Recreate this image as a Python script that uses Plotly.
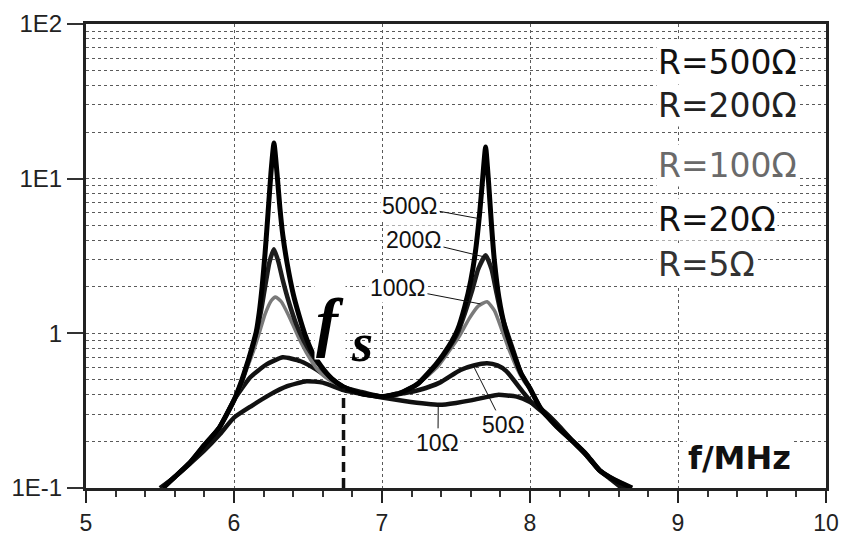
import plotly.graph_objects as go

# ---------------- data ----------------
x_500 = [5.52, 5.6, 5.7, 5.8, 5.9, 6.0, 6.05, 6.09, 6.12, 6.15, 6.17, 6.19, 6.21, 6.23, 6.25, 6.27,
         6.29, 6.31, 6.33, 6.36, 6.40, 6.44, 6.48, 6.53, 6.59, 6.66, 6.74, 6.85, 7.0, 7.12, 7.24,
         7.37, 7.45, 7.51, 7.56, 7.60, 7.63, 7.66, 7.68, 7.70, 7.72, 7.74, 7.76, 7.79, 7.83, 7.88,
         7.94, 8.0, 8.07, 8.18, 8.29, 8.38, 8.47, 8.57, 8.69]
y_500 = [0.1, 0.118, 0.145, 0.19, 0.245, 0.37, 0.49, 0.64, 0.8, 1.02, 1.35, 2.0, 3.3, 6.0, 11.0, 17,
         11.0, 6.5, 4.3, 2.8, 1.8, 1.3, 0.98, 0.75, 0.61, 0.51, 0.45, 0.41, 0.39, 0.41, 0.47,
         0.64, 0.82, 1.05, 1.5, 2.2, 3.3, 6.0, 10.0, 16, 9.5, 5.0, 2.9, 1.7, 1.1, 0.78,
         0.55, 0.44, 0.33, 0.25, 0.2, 0.165, 0.13, 0.113, 0.1]

x_200 = [5.52, 5.6, 5.7, 5.8, 5.9, 6.0, 6.05, 6.09, 6.12, 6.15, 6.18, 6.21, 6.24, 6.27, 6.30, 6.33,
         6.37, 6.42, 6.47, 6.53, 6.59, 6.66, 6.74, 6.85, 7.0, 7.12, 7.24, 7.37, 7.45, 7.51, 7.56,
         7.61, 7.65, 7.70, 7.74, 7.77, 7.80, 7.84, 7.89, 7.94, 8.0, 8.07, 8.18, 8.29, 8.38, 8.47,
         8.57, 8.68]
y_200 = [0.1, 0.118, 0.145, 0.19, 0.245, 0.37, 0.48, 0.63, 0.78, 1.0, 1.35, 2.0, 2.9, 3.5, 2.9, 2.2,
         1.6, 1.15, 0.9, 0.72, 0.6, 0.51, 0.45, 0.41, 0.39, 0.41, 0.47, 0.63, 0.8, 1.0, 1.35,
         1.9, 2.6, 3.2, 2.6, 1.9, 1.4, 1.05, 0.76, 0.55, 0.44, 0.33, 0.25, 0.2, 0.165, 0.13,
         0.113, 0.1]

x_100 = [5.52, 5.6, 5.7, 5.8, 5.9, 6.0, 6.05, 6.09, 6.13, 6.17, 6.21, 6.25, 6.28, 6.32, 6.37, 6.43,
         6.5, 6.56, 6.63, 6.74, 6.85, 7.0, 7.12, 7.24, 7.37, 7.45, 7.52, 7.59, 7.65, 7.71, 7.76,
         7.81, 7.86, 7.91, 7.96, 8.01, 8.07, 8.18, 8.29, 8.38, 8.47, 8.57, 8.68]
y_100 = [0.1, 0.118, 0.145, 0.19, 0.245, 0.37, 0.47, 0.6, 0.76, 1.0, 1.33, 1.62, 1.72, 1.6, 1.3, 0.97,
         0.72, 0.59, 0.51, 0.45, 0.41, 0.39, 0.41, 0.47, 0.6, 0.76, 0.95, 1.25, 1.5, 1.6, 1.4,
         1.05, 0.78, 0.6, 0.49, 0.42, 0.33, 0.25, 0.2, 0.165, 0.13, 0.113, 0.1]

x_50 = [5.51, 5.6, 5.7, 5.8, 5.9, 6.0, 6.11, 6.22, 6.33, 6.45, 6.56, 6.67, 6.74, 6.85, 7.0, 7.15, 7.25,
        7.39, 7.53, 7.62, 7.71, 7.78, 7.84, 7.95, 8.02, 8.1, 8.2, 8.29, 8.38, 8.47, 8.57, 8.65]
y_50 = [0.1, 0.118, 0.145, 0.185, 0.245, 0.37, 0.52, 0.63, 0.70, 0.66, 0.58, 0.49, 0.45, 0.42, 0.39, 0.41, 0.43,
        0.48, 0.58, 0.62, 0.64, 0.62, 0.57, 0.42, 0.35, 0.3, 0.245, 0.2, 0.163, 0.13, 0.112, 0.1]

x_10 = [5.5, 5.6, 5.7, 5.8, 5.9, 6.0, 6.12, 6.24, 6.36, 6.49, 6.6, 6.74, 6.87, 7.0, 7.15, 7.3, 7.39,
        7.5, 7.61, 7.78, 7.91, 8.0, 8.1, 8.2, 8.29, 8.38, 8.47, 8.55, 8.62]
y_10 = [0.1, 0.118, 0.143, 0.175, 0.22, 0.285, 0.34, 0.4, 0.455, 0.49, 0.48, 0.43, 0.405, 0.385, 0.365, 0.35, 0.345,
        0.355, 0.37, 0.40, 0.39, 0.36, 0.31, 0.25, 0.2, 0.163, 0.13, 0.113, 0.1]

fs_x = 6.74
fs_y = [0.1, 0.44]

y_tickvals = [0.1, 1, 10, 100]
y_ticktext = ["1E-1", "1", "1E1", "1E2"]
y_gridvals = [0.2, 0.3, 0.4, 0.5, 0.6, 0.7, 0.8, 0.9,
              2, 3, 4, 5, 6, 7, 8, 9,
              20, 30, 40, 50, 60, 70, 80, 90]
x_tickvals = [5, 6, 7, 8, 9, 10]

legend_texts = ["R=500Ω", "R=200Ω", "R=100Ω", "R=20Ω", "R=5Ω"]
legend_colors = ["#111111", "#222222", "#6a6a6a", "#111111", "#333333"]
legend_py = [0.918, 0.825, 0.696, 0.578, 0.481]

# ---------------- figure ----------------
fig = go.Figure()

series = [
    (x_10, y_10, "#111111", 4.5),
    (x_50, y_50, "#111111", 4.5),
    (x_100, y_100, "#7a7a7a", 3.5),
    (x_200, y_200, "#1c1c1c", 4.5),
    (x_500, y_500, "#000000", 5),
]
for xs, ys, col, w in series:
    fig.add_trace(go.Scatter(x=xs, y=ys, mode="lines",
                             line=dict(color=col, width=w, shape="spline", smoothing=0.5),
                             showlegend=False, hoverinfo="skip"))

fig.add_trace(go.Scatter(x=[fs_x, fs_x], y=fs_y, mode="lines",
                         line=dict(color="#111111", width=3.5, dash="10px,6px"),
                         showlegend=False, hoverinfo="skip"))

grid_style = dict(showgrid=True, gridcolor="#5a5a5a", griddash="dot", gridwidth=1)

fig.update_xaxes(range=[5, 10], tickvals=x_tickvals, ticks="outside", ticklen=12, tickwidth=2,
                 tickcolor="#222", showline=True, linewidth=3, linecolor="#222", mirror=True,
                 zeroline=False, automargin=False, ticklabelstandoff=0,
                 tickfont=dict(family="Liberation Sans", size=23, color="#222"),
                 minor=dict(dtick=0.2, tick0=5, ticks="outside", ticklen=6, tickwidth=1.5,
                            tickcolor="#333", showgrid=False),
                 **grid_style)

fig.update_yaxes(type="log", range=[-1, 2], tickvals=y_tickvals, ticktext=y_ticktext,
                 ticks="outside", ticklen=16, tickwidth=2, tickcolor="#333",
                 showline=True, linewidth=3, linecolor="#222", mirror=True, zeroline=False,
                 automargin=False,
                 tickfont=dict(family="Liberation Sans", size=24, color="#222"),
                 minor=dict(tickvals=y_gridvals, ticks="", showgrid=True, gridcolor="#5a5a5a",
                            griddash="dot", gridwidth=1),
                 **grid_style)

annotations = []
for t, c, py in zip(legend_texts, legend_colors, legend_py):
    annotations.append(dict(text=t, xref="paper", yref="paper", x=0.770, y=py, xanchor="left",
                            yanchor="middle", showarrow=False, bgcolor="white",
                            font=dict(family="DejaVu Sans", size=33, color=c)))

lab_font = dict(family="Liberation Sans", size=23, color="#111")
curve_labels = [
    ("500Ω", 7.19, 0.824, 7.665, 0.74),
    ("200Ω", 7.216, 0.604, 7.705, 0.491),
    ("100Ω", 7.108, 0.293, 7.665, 0.19),
    ("50Ω", 7.818, -0.592, 7.62, -0.215),
    ("10Ω", 7.378, -0.708, 7.38, -0.456),
]
for t, ax, ay, tx, ty in curve_labels:
    annotations.append(dict(text=t, xref="x", yref="y", x=tx, y=ty, axref="x", ayref="y",
                            ax=ax, ay=ay, showarrow=True, arrowhead=0, arrowwidth=1,
                            arrowcolor="#111", bgcolor="white", font=lab_font))

annotations.append(dict(text="<b><i>f</i></b>", xref="paper", yref="paper",
                        x=(330 - 86) / 740, y=(488 - 322) / 464, xanchor="center", yanchor="middle",
                        showarrow=False, bgcolor="white",
                        font=dict(family="Liberation Serif", size=66, color="#000")))
annotations.append(dict(text="<b><i>s</i></b>", xref="paper", yref="paper",
                        x=(362 - 86) / 740, y=(488 - 343) / 464, xanchor="center", yanchor="middle",
                        showarrow=False,
                        font=dict(family="Liberation Serif", size=54, color="#000")))
annotations.append(dict(text="<b>f/MHz</b>", xref="paper", yref="paper",
                        x=(739 - 86) / 740, y=(488 - 458) / 464, xanchor="center", yanchor="middle",
                        showarrow=False, bgcolor="white",
                        font=dict(family="DejaVu Sans", size=32, color="#111")))

fig.update_layout(width=842, height=540, autosize=False,
                  margin=dict(l=86, r=16, t=24, b=52, autoexpand=False),
                  paper_bgcolor="white", plot_bgcolor="white",
                  annotations=annotations, showlegend=False)

fig.write_html("out.html", config={"displayModeBar": False},
               post_script="document.body.style.margin='0';document.body.style.overflow='hidden';")
